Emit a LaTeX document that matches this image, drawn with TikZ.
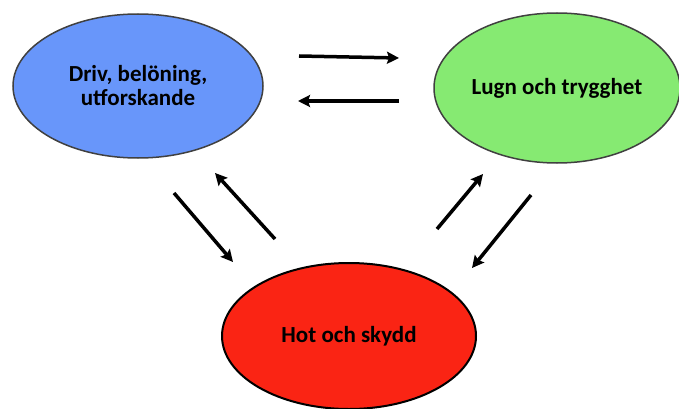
\documentclass[tikz,border=0pt]{standalone}
\usepackage{fontspec}
\setmainfont{Carlito}
\usetikzlibrary{shapes.geometric,arrows.meta}
\definecolor{drivblue}{RGB}{104,150,250}
\definecolor{lugngreen}{RGB}{134,234,114}
\definecolor{hotred}{RGB}{250,36,20}
\begin{document}
\begin{tikzpicture}[x=1pt,y=-1pt,
  blob/.style={ellipse,draw=black!75,line width=1.5pt,inner sep=0pt,
    minimum width=250pt,minimum height=144pt,align=center,
    font=\bfseries\fontsize{23}{24}\selectfont},
  link/.style={line width=3.5pt,-{Stealth[length=12pt,width=12pt,inset=2pt]}}]
\useasboundingbox (0,0) rectangle (679,409);
% systems
\node[blob,fill=drivblue] (driv) at (138,86) {Driv, belöning,\\utforskande};
\node[blob,fill=lugngreen,minimum width=246pt,minimum height=150pt] (lugn) at (557,88) {Lugn och trygghet};
\node[blob,fill=hotred,draw=black,line width=2pt,minimum width=254pt,minimum height=146pt] (hot) at (349,336) {Hot och skydd};
% arrow ends
\coordinate (dl1) at (299,56);  \coordinate (dl2) at (399,58);
\coordinate (ld1) at (399,101); \coordinate (ld2) at (298,101);
\coordinate (dh1) at (174,193); \coordinate (dh2) at (233,262);
\coordinate (hd1) at (275,239); \coordinate (hd2) at (215,173);
\coordinate (hl1) at (437,229); \coordinate (hl2) at (483,174);
\coordinate (lh1) at (531,195); \coordinate (lh2) at (472,268);
% arrows
\draw[link] (dl1) -- (dl2);
\draw[link] (ld1) -- (ld2);
\draw[link] (dh1) -- (dh2);
\draw[link] (hd1) -- (hd2);
\draw[link] (hl1) -- (hl2);
\draw[link] (lh1) -- (lh2);
\end{tikzpicture}
\end{document}
